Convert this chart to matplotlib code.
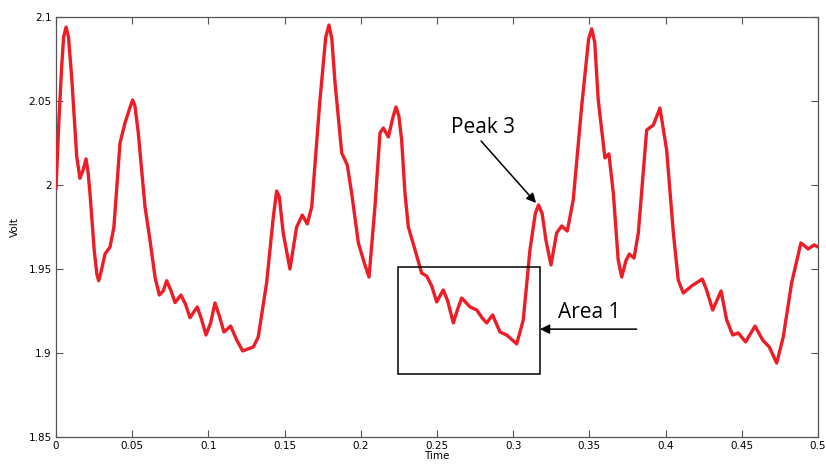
import matplotlib
matplotlib.use('Agg')
import matplotlib.pyplot as plt
from matplotlib.ticker import FormatStrFormatter
from matplotlib.patches import Rectangle

# signal (time in s, voltage in V)
time = [0.0, 0.0020, 0.0037, 0.0050, 0.0066, 0.0082, 0.0103, 0.0136, 0.0157, 0.0178,
        0.0197, 0.0210, 0.0223, 0.0251, 0.0268, 0.0280, 0.0295, 0.0322, 0.0354, 0.0380,
        0.0420, 0.0453, 0.0485, 0.0503, 0.0518, 0.0540, 0.0584, 0.0617, 0.0650, 0.0678,
        0.0704, 0.0726, 0.0755, 0.0781, 0.0820, 0.0850, 0.0879, 0.0927, 0.0955, 0.0984,
        0.1015, 0.1043, 0.1072, 0.1102, 0.1146, 0.1186, 0.1225, 0.1295, 0.1327, 0.1382,
        0.1426, 0.1448, 0.1465, 0.1491, 0.1535, 0.1579, 0.1616, 0.1649, 0.1678, 0.1732,
        0.1770, 0.1791, 0.1810, 0.1831, 0.1875, 0.1911, 0.1940, 0.1984, 0.2023, 0.2054,
        0.2093, 0.2126, 0.2148, 0.2181, 0.2210, 0.2231, 0.2250, 0.2268, 0.2290, 0.2312,
        0.2356, 0.2399, 0.2432, 0.2465, 0.2498, 0.2541, 0.2570, 0.2607, 0.2635, 0.2662,
        0.2717, 0.2761, 0.2795, 0.2826, 0.2865, 0.2913, 0.2957, 0.3023, 0.3066, 0.3110,
        0.3145, 0.3166, 0.3190, 0.3215, 0.3248, 0.3285, 0.3318, 0.3355, 0.3394, 0.3449,
        0.3495, 0.3515, 0.3535, 0.3558, 0.3602, 0.3628, 0.3657, 0.3689, 0.3712, 0.3740,
        0.3762, 0.3793, 0.3821, 0.3876, 0.3920, 0.3963, 0.4007, 0.4051, 0.4083, 0.4116,
        0.4171, 0.4241, 0.4269, 0.4309, 0.4340, 0.4364, 0.4401, 0.4440, 0.4477, 0.4525,
        0.4587, 0.4637, 0.4680, 0.4729, 0.4772, 0.4827, 0.4888, 0.4936, 0.4974, 0.5000]
volt = [1.998, 2.040, 2.070, 2.088, 2.094, 2.088, 2.064, 2.017, 2.004, 2.009,
        2.0155, 2.008, 1.995, 1.961, 1.947, 1.943, 1.948, 1.959, 1.963, 1.975,
        2.025, 2.037, 2.046, 2.0506, 2.047, 2.031, 1.987, 1.967, 1.945, 1.9345,
        1.937, 1.943, 1.937, 1.930, 1.9345, 1.929, 1.921, 1.9274, 1.920, 1.9107,
        1.918, 1.9298, 1.922, 1.9125, 1.916, 1.9077, 1.9012, 1.9036, 1.9095, 1.9417,
        1.981, 1.9964, 1.993, 1.9714, 1.950, 1.975, 1.9821, 1.9768, 1.987, 2.0506,
        2.088, 2.0952, 2.087, 2.0607, 2.019, 2.012, 1.9952, 1.9655, 1.9536, 1.9452,
        1.987, 2.031, 2.0339, 2.0286, 2.040, 2.0464, 2.041, 2.0268, 1.995, 1.975,
        1.9613, 1.9476, 1.9458, 1.940, 1.9304, 1.9375, 1.931, 1.9179, 1.926, 1.9327,
        1.9274, 1.9256, 1.921, 1.9179, 1.9226, 1.9125, 1.9107, 1.9054, 1.9196, 1.9613,
        1.983, 1.9881, 1.983, 1.967, 1.9524, 1.9714, 1.9756, 1.9726, 1.9911, 2.0464,
        2.087, 2.0929, 2.085, 2.0506, 2.0161, 2.0185, 1.9952, 1.9554, 1.9452, 1.955,
        1.9589, 1.9565, 1.9714, 2.0327, 2.0357, 2.0458, 2.0208, 1.9714, 1.9434, 1.9357,
        1.9399, 1.9440, 1.9375, 1.9256, 1.932, 1.9369, 1.9196, 1.9107, 1.9119, 1.9066,
        1.916, 1.9077, 1.9036, 1.894, 1.9095, 1.9417, 1.9655, 1.9619, 1.9643, 1.9631]

# annotation box and labels
box_t = [0.2244, 0.3176]
box_v = [1.8875, 1.9512]
peak_label = 'Peak 3'
area_label = 'Area 1'

fig = plt.figure(figsize=(8.26, 4.72), dpi=100)
ax = fig.add_axes([0.0678, 0.0742, 0.9225, 0.8898])

ax.plot(time, volt, color='#ee1c25', linewidth=2.4, solid_joinstyle='round', zorder=3)

ax.add_patch(Rectangle((box_t[0], box_v[0]), box_t[1] - box_t[0], box_v[1] - box_v[0],
                       fill=False, edgecolor='black', linewidth=1.1, zorder=4))

# Peak 3 label and its arrow
ax.text(0.2803, 2.0340, peak_label, fontsize=15, family='Open Sans',
        ha='center', va='center')
ax.annotate('', xy=(0.3150, 1.9893), xytext=(0.2789, 2.0262),
            arrowprops=dict(arrowstyle='-|>', color='black', lw=1.1,
                            mutation_scale=14, shrinkA=0, shrinkB=0))

# Area 1 label and its arrow
ax.annotate('', xy=(0.3176, 1.9142), xytext=(0.3810, 1.9142),
            arrowprops=dict(arrowstyle='-|>', color='black', lw=1.1,
                            mutation_scale=14, shrinkA=0, shrinkB=0))
ax.text(0.3496, 1.9240, area_label, fontsize=15, family='Open Sans',
        ha='center', va='center')

ax.set_xlim(0, 0.5)
ax.set_ylim(1.85, 2.1)
ax.set_xticks([0, 0.05, 0.1, 0.15, 0.2, 0.25, 0.3, 0.35, 0.4, 0.45, 0.5])
ax.set_yticks([1.85, 1.9, 1.95, 2.0, 2.05, 2.1])
ax.xaxis.set_major_formatter(FormatStrFormatter('%g'))
ax.yaxis.set_major_formatter(FormatStrFormatter('%g'))
ax.tick_params(direction='in', top=True, right=True, length=5, width=0.8,
               color='#555555', labelsize=7.5, pad=3)
for s in ax.spines.values():
    s.set_color('#555555')
    s.set_linewidth(0.9)

ax.set_xlabel('Time', fontsize=7.5, labelpad=0)
ax.set_ylabel('Volt', fontsize=7.5, labelpad=6)

fig.savefig('out.png', dpi=100)
